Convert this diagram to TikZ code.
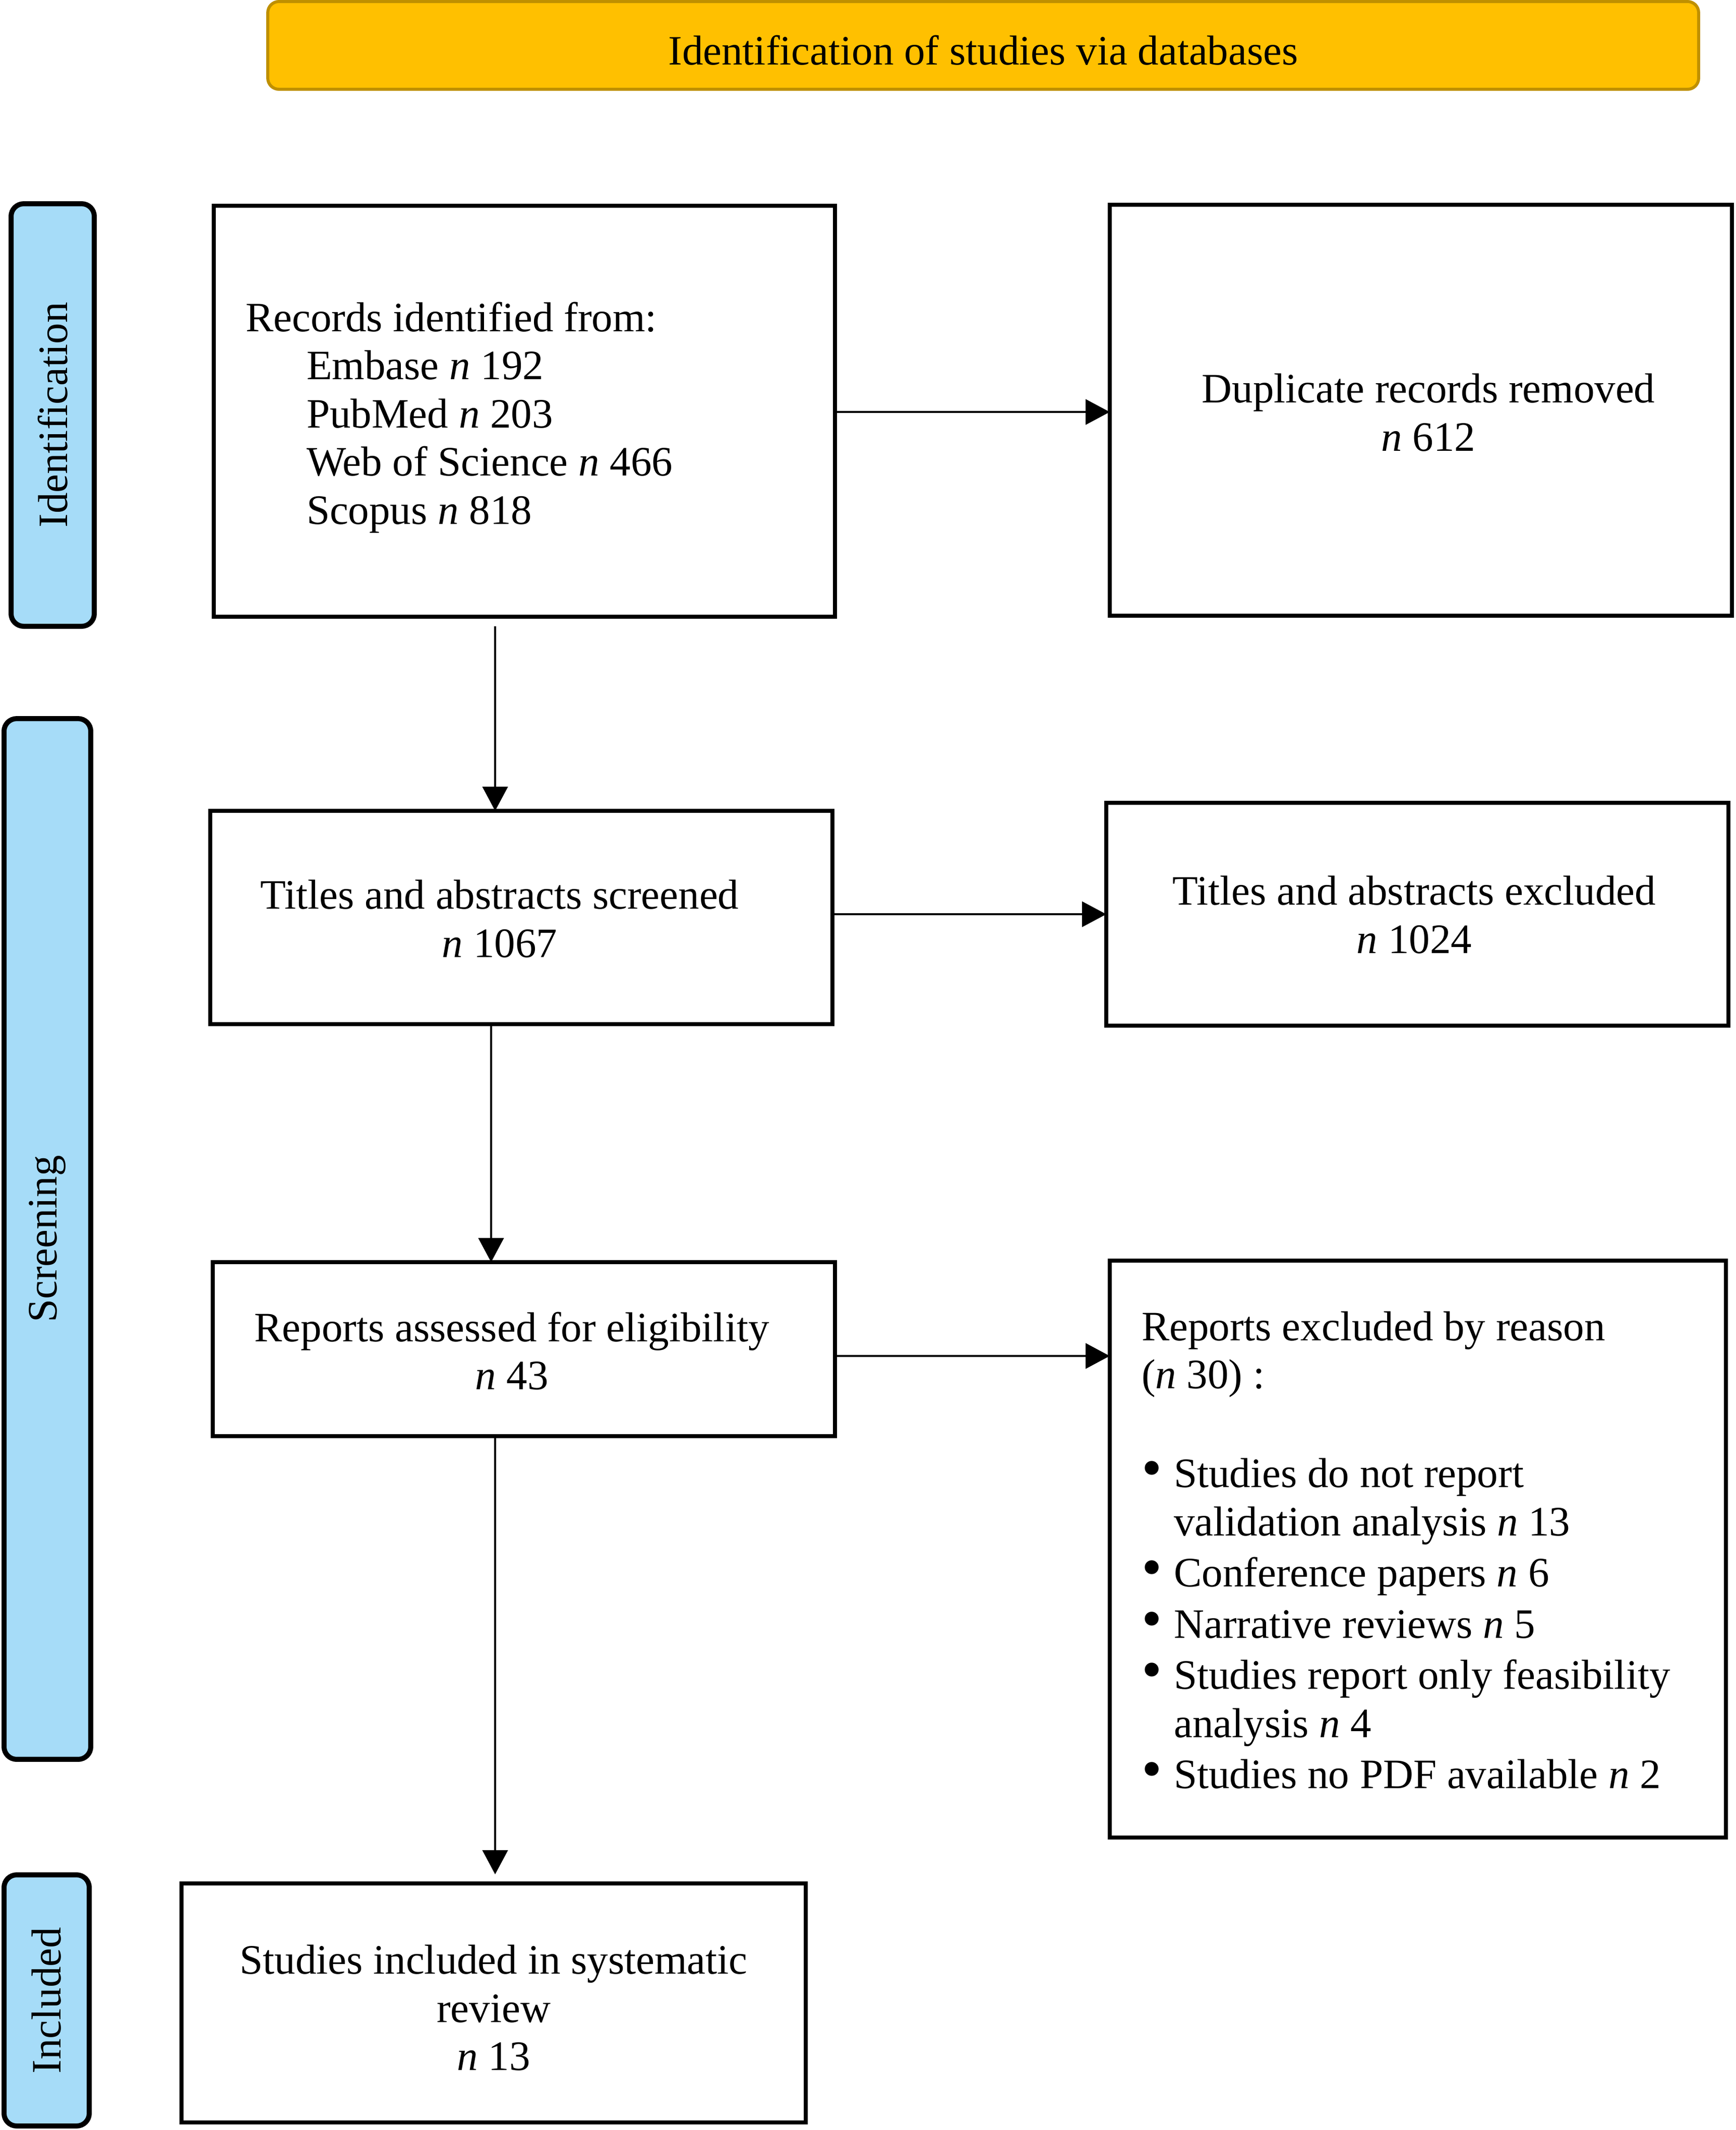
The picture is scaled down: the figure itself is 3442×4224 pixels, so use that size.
\documentclass[tikz,border=0pt]{standalone}
\usepackage{fontspec}
\setmainfont{Liberation Serif}
\usetikzlibrary{arrows.meta}
\definecolor{bannerfill}{HTML}{FFC000}
\definecolor{bannerdraw}{HTML}{BF9000}
\definecolor{sidefill}{HTML}{A6DCF8}
\newcommand{\bul}{\raisebox{0pt}[0pt][0pt]{\fontsize{11.5}{11.5}\selectfont\textbullet}}
\begin{document}
\begin{tikzpicture}[x=0.1pt,y=-0.1pt,
  every node/.style={font=\fontsize{8.3}{9.55}\selectfont, inner sep=0pt, outer sep=0pt},
  box/.style={draw=black, line width=0.8pt, fill=white, rectangle},
  sidelab/.style={draw=black, line width=1pt, fill=sidefill, rounded corners=2.5pt, rotate=90},
  banner/.style={draw=bannerdraw, line width=0.6pt, fill=bannerfill, rounded corners=2.2pt},
  arr/.style={line width=0.45pt, -{Triangle[length=4.8pt,width=5pt]}},
  ctext/.style={align=center},
  ltext/.style={align=left, anchor=west},
  ]
\useasboundingbox (0,0) rectangle (3442,4224);

% banner
\node[banner, minimum width=283.8pt, minimum height=17.4pt] (ban) at (1950,90) {};
\node[ctext] (bant) at (1950,100) {Identification of studies via databases};

% side labels
\node[sidelab, minimum width=83.8pt, minimum height=16.5pt] (idl) at (104.5,823) {Identification};
\node[sidelab, minimum width=206.4pt, minimum height=17.2pt] (scl) at (94,2457) {Screening};
\node[sidelab, minimum width=49.8pt, minimum height=16.9pt] (inl) at (92.5,3967) {Included};

% boxes
\node[box, minimum width=123.3pt, minimum height=81.5pt] (rec) at (1040,815.5) {};
\node[box, minimum width=123.4pt, minimum height=81.5pt] (dup) at (2818,813.5) {};
\node[box, minimum width=123.4pt, minimum height=42.3pt] (tas) at (1034,1819.5) {};
\node[box, minimum width=123.4pt, minimum height=44.2pt] (tae) at (2811,1813) {};
\node[box, minimum width=123.4pt, minimum height=34.5pt] (rae) at (1039,2675.5) {};
\node[box, minimum width=122.2pt, minimum height=114.4pt] (rex) at (2812,3072) {};
\node[box, minimum width=123.8pt, minimum height=47.4pt] (inc) at (979,3972) {};

% texts
\node[ltext] (rect) at (487,828) {Records identified from:\\
\hspace*{12.1pt}Embase \textit{n} 192\\
\hspace*{12.1pt}PubMed \textit{n} 203\\
\hspace*{12.1pt}Web of Science \textit{n} 466\\
\hspace*{12.1pt}Scopus \textit{n} 818};
\node[ctext] (dupt) at (2833,818) {Duplicate records removed\\\textit{n} 612};
\node[ctext] (tast) at (991,1822) {Titles and abstracts screened\\\textit{n} 1067};
\node[ctext] (taet) at (2805,1814) {Titles and abstracts excluded\\\textit{n} 1024};
\node[ctext] (raet) at (1015,2679) {Reports assessed for eligibility\\\textit{n} 43};
\node[ltext] (rexh) at (2264,2686) {Reports excluded by reason\\(\textit{n} 30) :};
\node[ltext] (rexl) at (2264,3229) {\begin{tabular}{@{}l@{\hspace{2.4pt}}l@{}}
\bul & Studies do not report\\
 & validation analysis \textit{n} 13\\[0.6pt]
\bul & Conference papers \textit{n} 6\\[0.6pt]
\bul & Narrative reviews \textit{n} 5\\[0.6pt]
\bul & Studies report only feasibility\\
 & analysis \textit{n} 4\\[0.6pt]
\bul & Studies no PDF available \textit{n} 2
\end{tabular}};
\node[ctext] (inct) at (979,3982) {Studies included in systematic\\review\\\textit{n} 13};

% connectors
\coordinate (ya) at (0,817);
\coordinate (yb) at (0,1813);
\coordinate (yc) at (0,2689);
\draw[arr] (rec.east |- ya) -- (dup.west |- ya);
\draw[arr] (tas.east |- yb) -- (tae.west |- yb);
\draw[arr] (rae.east |- yc) -- (rex.west |- yc);
\coordinate (v1s) at (982,1242);
\coordinate (xv2) at (974,0);
\coordinate (v3e) at (982,3717);
\draw[arr] (v1s) -- (v1s |- tas.north);
\draw[arr] (tas.south -| xv2) -- (rae.north -| xv2);
\draw[arr] (rae.south -| v3e) -- (v3e);
\end{tikzpicture}
\end{document}
